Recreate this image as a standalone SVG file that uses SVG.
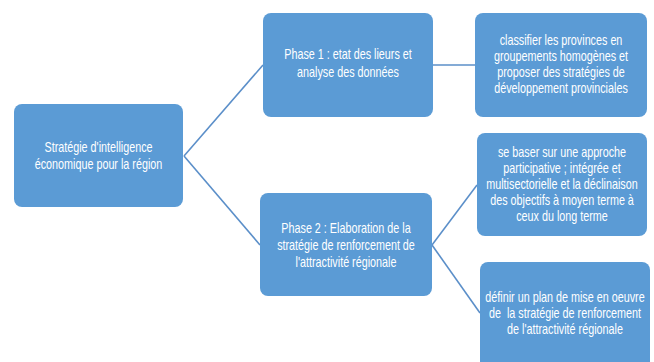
<svg xmlns="http://www.w3.org/2000/svg" width="654" height="362" viewBox="0 0 654 362">
<style>
.box{fill:#5B9BD5;stroke:none}
.t{fill:#FFFFFF;font-family:"Liberation Sans",Arial,sans-serif;font-size:14px;text-anchor:middle}
.c{stroke:#5B8FC9;stroke-width:1.6;fill:none}
</style>
<rect width="654" height="362" fill="#FFFFFF"/>
<g id="connectors">
<line class="c" x1="184" y1="156" x2="263" y2="65"/>
<line class="c" x1="184" y1="156" x2="260" y2="245"/>
<line class="c" x1="433" y1="65" x2="475" y2="65"/>
<line class="c" x1="432" y1="245" x2="477" y2="185"/>
<line class="c" x1="432" y1="245" x2="480" y2="313"/>
</g>
<g id="root">
<rect class="box" x="14" y="104" width="169" height="103" rx="8"/>
<g class="t" transform="translate(98.5 0) scale(0.77 1)">
<text x="0" y="152">Stratégie d'intelligence</text>
<text x="0" y="169">économique pour la région</text>
</g>
</g>
<g id="phase1">
<rect class="box" x="263" y="13" width="170" height="104" rx="8"/>
<g class="t" transform="translate(348 0) scale(0.77 1)">
<text x="0" y="59">Phase 1 : etat des lieurs et</text>
<text x="0" y="77">analyse des données</text>
</g>
</g>
<g id="classifier">
<rect class="box" x="475" y="13" width="172" height="104" rx="8"/>
<g class="t" transform="translate(561 0) scale(0.77 1)">
<text x="0" y="45">classifier les provinces en</text>
<text x="0" y="61">groupements homogènes et</text>
<text x="0" y="77">proposer des stratégies de</text>
<text x="0" y="93">développement provinciales</text>
</g>
</g>
<g id="phase2">
<rect class="box" x="260" y="193" width="172" height="103" rx="8"/>
<g class="t" transform="translate(346 0) scale(0.77 1)">
<text x="0" y="233">Phase 2 : Elaboration de la</text>
<text x="0" y="250">stratégie de renforcement de</text>
<text x="0" y="267">l'attractivité régionale</text>
</g>
</g>
<g id="approche">
<rect class="box" x="477" y="133" width="170" height="103" rx="8"/>
<g class="t" transform="translate(562 0) scale(0.77 1)">
<text x="0" y="157">se baser sur une approche</text>
<text x="0" y="173">participative ; intégrée et</text>
<text x="0" y="189">multisectorielle et la déclinaison</text>
<text x="0" y="205">des objectifs à moyen terme à</text>
<text x="0" y="221">ceux du long terme</text>
</g>
</g>
<g id="plan">
<rect class="box" x="480" y="262" width="170" height="110" rx="8"/>
<g class="t" transform="translate(565 0) scale(0.77 1)">
<text x="0" y="302">définir un plan de mise en oeuvre</text>
<text x="0" y="318" xml:space="preserve">de  la stratégie de renforcement</text>
<text x="0" y="334">de l'attractivité régionale</text>
</g>
</g>
</svg>
